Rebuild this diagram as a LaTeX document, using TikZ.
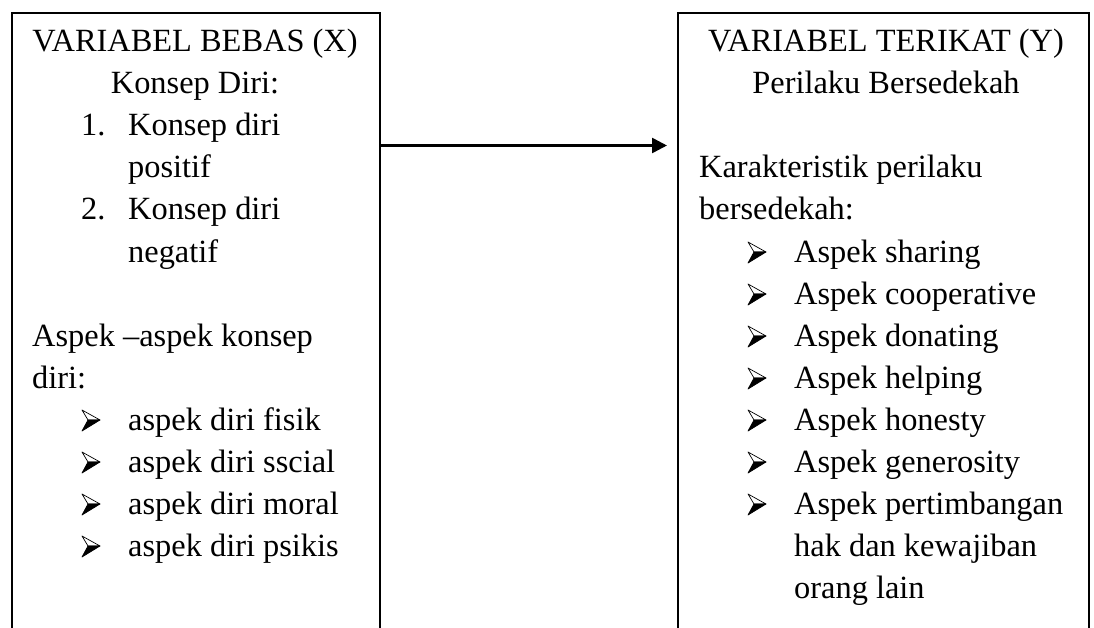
\documentclass[tikz,border=0pt]{standalone}
\usepackage{fontspec}
\setmainfont{Liberation Serif}
\usetikzlibrary{arrows.meta}
\tikzset{
  box/.style={draw, line width=2.2pt, anchor=north west, inner sep=0pt, minimum height=700pt},
  txt/.style={anchor=base west, inner sep=0pt, font=\fontsize{32.4}{38}\selectfont},
  ctxt/.style={anchor=base, inner sep=0pt, font=\fontsize{32.4}{38}\selectfont},
  conn/.style={line width=2.6pt, -{Triangle[length=15pt,width=15pt]}},
  bul/.pic={
    \filldraw[fill=white, draw=black, line width=0.7pt, line join=round] (0,-20) -- (18,-10) -- (6,-10) -- cycle;
    \filldraw[fill=black, draw=black, line width=0.7pt, line join=round] (6,-10) -- (18,-10) -- (0,1) -- cycle;
  }
}
\begin{document}
\begin{tikzpicture}[x=1pt, y=-1pt]
\useasboundingbox (0,0) rectangle (1094,628);
\clip (0,0) rectangle (1094,628);
\fill[white] (0,0) rectangle (1094,628);
% boxes
\node[box, minimum width=368pt] (L) at (11,12) {};
\node[box, minimum width=411pt] (R) at (677,12) {};
% left box text
\node[ctxt] (l0) at (195,52) {VARIABEL BEBAS (X)};
\node[ctxt] (l1) at (195,94) {Konsep Diri:};
\node[txt] (l2n) at (81,136) {1.};
\node[txt] (l2) at (128,136) {Konsep diri};
\node[txt] (l3) at (128,178) {positif};
\node[txt] (l4n) at (81,220) {2.};
\node[txt] (l4) at (128,220) {Konsep diri};
\node[txt] (l5) at (128,262) {negatif};
\node[txt] (l7) at (32,346) {Aspek –aspek konsep};
\node[txt] (l8) at (32,388) {diri:};
\pic at (82,430) {bul};
\node[txt] (l9) at (128,430) {aspek diri fisik};
\pic at (82,472) {bul};
\node[txt] (l10) at (128,472) {aspek diri sscial};
\pic at (82,514) {bul};
\node[txt] (l11) at (128,514) {aspek diri moral};
\pic at (82,556) {bul};
\node[txt] (l12) at (128,556) {aspek diri psikis};
% right box text
\node[ctxt] (r0) at (886,52) {VARIABEL TERIKAT (Y)};
\node[ctxt] (r1) at (886,94) {Perilaku Bersedekah};
\node[txt] (r3) at (699,178) {Karakteristik perilaku};
\node[txt] (r4) at (699,220) {bersedekah:};
\pic at (748,262) {bul};
\node[txt] (r5) at (794,262) {Aspek sharing};
\pic at (748,304) {bul};
\node[txt] (r6) at (794,304) {Aspek cooperative};
\pic at (748,346) {bul};
\node[txt] (r7) at (794,346) {Aspek donating};
\pic at (748,388) {bul};
\node[txt] (r8) at (794,388) {Aspek helping};
\pic at (748,430) {bul};
\node[txt] (r9) at (794,430) {Aspek honesty};
\pic at (748,472) {bul};
\node[txt] (r10) at (794,472) {Aspek generosity};
\pic at (748,514) {bul};
\node[txt] (r11) at (794,514) {Aspek pertimbangan};
\node[txt] (r12) at (794,556) {hak dan kewajiban};
\node[txt] (r13) at (794,598) {orang lain};
% connector
\coordinate (ay) at (0,145.5);
\draw[conn] (ay -| L.east) -- ([xshift=-10pt]ay -| R.west);
\end{tikzpicture}
\end{document}
